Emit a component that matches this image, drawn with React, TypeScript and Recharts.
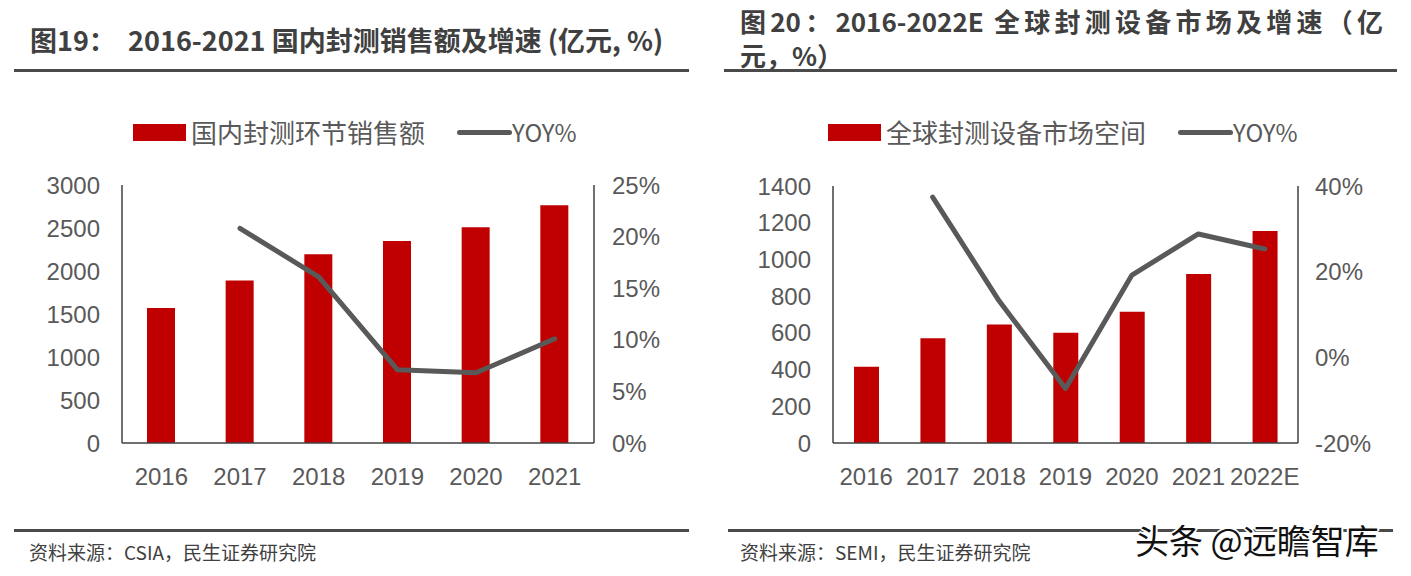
import React from 'react';
import { ComposedChart, Bar, Line, XAxis, YAxis, Legend } from 'recharts';

// ---- Chart 1 data ----
const years1 = ['2016', '2017', '2018', '2019', '2020', '2021'];
const sales1 = [1570, 1890, 2195, 2350, 2510, 2765];
const yoy1: (number | null)[] = [null, 20.8, 16.1, 7.1, 6.8, 10.1];
const leftTicks1 = [0, 500, 1000, 1500, 2000, 2500, 3000];
const rightTicks1 = [0, 5, 10, 15, 20, 25];

// ---- Chart 2 data ----
const years2 = ['2016', '2017', '2018', '2019', '2020', '2021', '2022E'];
const market2 = [415, 570, 645, 600, 715, 920, 1155];
const yoy2: (number | null)[] = [null, 37.4, 13.2, -7.3, 19.2, 28.8, 25.3];
const leftTicks2 = [0, 200, 400, 600, 800, 1000, 1200, 1400];
const rightTicks2 = [-20, 0, 20, 40];

const data1 = years1.map((y, i) => ({ year: y, value: sales1[i], yoy: yoy1[i] }));
const data2 = years2.map((y, i) => ({ year: y, value: market2[i], yoy: yoy2[i] }));

const RED = '#C00000';
const LINE = '#595959';
const AXIS = '#404040';
const TICK = '#595959';
const NUMFONT = '"Liberation Sans", Arial, sans-serif';
const CJK = '"Noto Sans CJK SC", "Noto Sans", sans-serif';

const tickStyle = { fill: TICK, fontSize: 24, fontFamily: NUMFONT };

function LegendBox({ label }: { label: string }) {
  return (
    <div style={{ display: 'flex', alignItems: 'center', fontFamily: CJK, color: TICK, whiteSpace: 'nowrap' }}>
      <div style={{ width: 53, height: 17, background: RED }} />
      <span style={{ fontSize: 26, marginLeft: 5, lineHeight: '30px' }}>{label}</span>
      <div style={{ width: 55, height: 5, background: LINE, borderRadius: 3, marginLeft: 32 }} />
      <span style={{ fontSize: 24, lineHeight: '30px' }}>YOY%</span>
    </div>
  );
}

export default function App() {
  return (
    <div style={{ position: 'fixed', left: 0, top: 0, width: 1411, height: 576, background: '#fff', overflow: 'hidden' }}>
      {/* Titles */}
      <div style={{ position: 'absolute', left: 30, top: 22, fontFamily: CJK, fontWeight: 700, fontSize: 27, color: '#404040', whiteSpace: 'pre', lineHeight: '36px' }}>
        {'图19：  2016-2021 国内封测销售额及增速 (亿元, %)'}
      </div>
      <div style={{ position: 'absolute', left: 14, top: 69, width: 675, height: 3, background: '#4a4a4a' }} />

      <div style={{ position: 'absolute', left: 740, top: 2, width: 643, height: 38, fontFamily: CJK, fontWeight: 700, fontSize: 26, color: '#404040', lineHeight: '38px', textAlign: 'justify', textAlignLast: 'justify', whiteSpace: 'nowrap' }}>
        {'图20：2016-2022E 全球封测设备市场及增速（亿'}
      </div>
      <div style={{ position: 'absolute', left: 740, top: 40, height: 30, fontFamily: CJK, fontWeight: 700, fontSize: 26, color: '#404040', lineHeight: '30px', whiteSpace: 'nowrap' }}>
        {'元，%）'}
      </div>
      <div style={{ position: 'absolute', left: 724, top: 69, width: 673, height: 3, background: '#4a4a4a' }} />

      {/* Chart 1 */}
      <div style={{ position: 'absolute', left: 0, top: 90 }}>
        <ComposedChart width={700} height={420} data={data1} margin={{ top: 95, right: 0, bottom: 0, left: 0 }}>
          <XAxis dataKey="year" yAxisId="l" height={67} tickSize={0} tickMargin={25} tick={tickStyle}
            axisLine={{ stroke: AXIS, strokeWidth: 1.5 }} tickLine={false} />
          <YAxis yAxisId="l" width={122} domain={[0, 3000]} ticks={leftTicks1} interval={0} tickSize={0} tickMargin={22}
            tick={tickStyle} axisLine={{ stroke: AXIS, strokeWidth: 1.5 }} tickLine={false} />
          <YAxis yAxisId="r" orientation="right" width={106} domain={[0, 25]} ticks={rightTicks1} interval={0} tickSize={0}
            tickMargin={18} tick={{ ...tickStyle, textAnchor: 'start' }} tickFormatter={(v: number) => `${v}%`}
            axisLine={{ stroke: AXIS, strokeWidth: 1.5 }} tickLine={false} />
          <Legend layout="horizontal" verticalAlign="middle" align="center"
            wrapperStyle={{ top: 27, left: 133, width: 'auto', height: 30 }}
            content={() => <LegendBox label="国内封测环节销售额" />} />
          <Bar yAxisId="l" dataKey="value" name="国内封测环节销售额" fill={RED} barSize={28} isAnimationActive={false} />
          <Line yAxisId="r" dataKey="yoy" name="YOY%" stroke={LINE} strokeWidth={5} dot={false}
            strokeLinejoin="round" strokeLinecap="round" isAnimationActive={false} />
        </ComposedChart>
      </div>

      {/* Chart 2 */}
      <div style={{ position: 'absolute', left: 710, top: 90 }}>
        <ComposedChart width={701} height={420} data={data2} margin={{ top: 96, right: 0, bottom: 0, left: 0 }}>
          <XAxis dataKey="year" yAxisId="l" height={67} tickSize={0} tickMargin={25} tick={tickStyle}
            axisLine={{ stroke: AXIS, strokeWidth: 1.5 }} tickLine={false} interval={0} />
          <YAxis yAxisId="l" width={123} domain={[0, 1400]} ticks={leftTicks2} interval={0} tickSize={0} tickMargin={22}
            tick={tickStyle} axisLine={{ stroke: AXIS, strokeWidth: 1.5 }} tickLine={false} />
          <YAxis yAxisId="r" orientation="right" width={113} domain={[-20, 40]} ticks={rightTicks2} interval={0} tickSize={0}
            tickMargin={17} tick={{ ...tickStyle, textAnchor: 'start' }} tickFormatter={(v: number) => `${v}%`}
            axisLine={{ stroke: AXIS, strokeWidth: 1.5 }} tickLine={false} />
          <Legend layout="horizontal" verticalAlign="middle" align="center"
            wrapperStyle={{ top: 27, left: 118, width: 'auto', height: 30 }}
            content={() => <LegendBox label="全球封测设备市场空间" />} />
          <Bar yAxisId="l" dataKey="value" name="全球封测设备市场空间" fill={RED} barSize={25} isAnimationActive={false} />
          <Line yAxisId="r" dataKey="yoy" name="YOY%" stroke={LINE} strokeWidth={5} dot={false}
            strokeLinejoin="round" strokeLinecap="round" isAnimationActive={false} />
        </ComposedChart>
      </div>

      {/* Footers */}
      <div style={{ position: 'absolute', left: 14, top: 529, width: 675, height: 3, background: '#4a4a4a' }} />
      <div style={{ position: 'absolute', left: 728, top: 529, width: 665, height: 3, background: '#4a4a4a' }} />
      <div style={{ position: 'absolute', left: 29, top: 539, fontFamily: CJK, fontSize: 19, color: '#404040', lineHeight: '26px', whiteSpace: 'nowrap' }}>
        资料来源：CSIA，民生证券研究院
      </div>
      <div style={{ position: 'absolute', left: 740, top: 539, fontFamily: CJK, fontSize: 19, color: '#404040', lineHeight: '26px', whiteSpace: 'nowrap' }}>
        资料来源：SEMI，民生证券研究院
      </div>
      <div style={{
        position: 'absolute', left: 1135, top: 520, fontFamily: CJK, fontSize: 34, color: '#111', lineHeight: '40px', whiteSpace: 'pre',
        textShadow: '1px 1px 0 #fff, -1px -1px 0 #fff, 1px -1px 0 #fff, -1px 1px 0 #fff, 2px 0 0 #fff, -2px 0 0 #fff, 0 2px 0 #fff, 0 -2px 0 #fff'
      }}>
        {'头条 @远瞻智库'}
      </div>
    </div>
  );
}
